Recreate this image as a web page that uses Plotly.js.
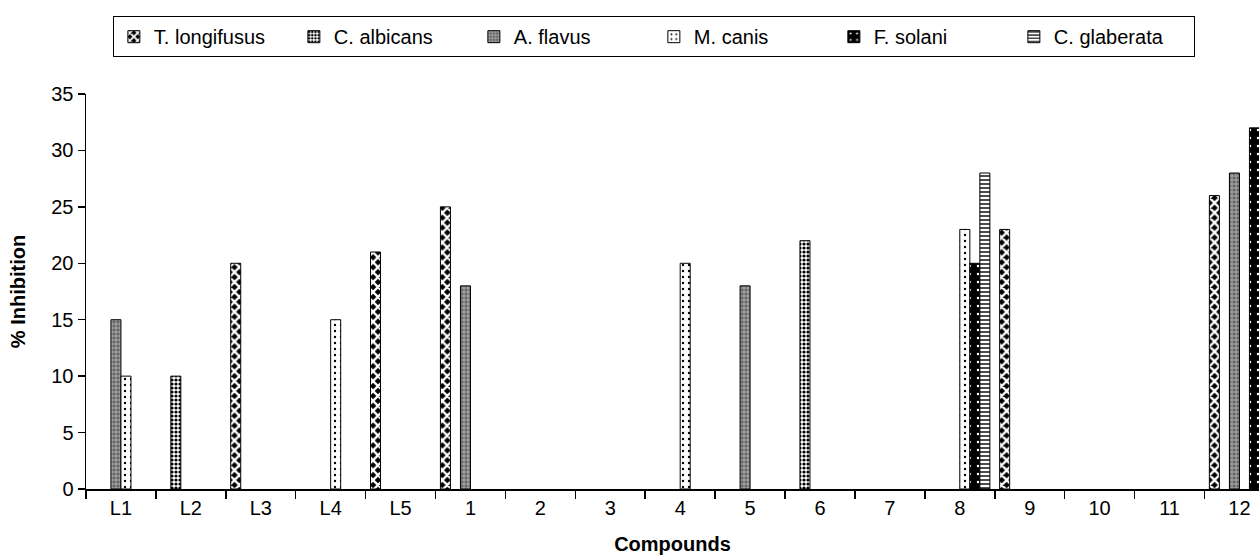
<!DOCTYPE html>
<html>
<head>
<meta charset="utf-8">
<script src="https://cdn.plot.ly/plotly-3.0.1.min.js"></script>
<style>html,body{margin:0;padding:0;background:#fff;}#chart{width:1259px;height:556px;}</style>
</head>
<body>
<div id="chart"></div>
<script>
const compounds = ["L1","L2","L3","L4","L5","1","2","3","4","5","6","7","8","9","10","11","12"];
const seriesNames = ["T. longifusus","C. albicans","A. flavus","M. canis","F. solani","C. glaberata"];
const tLongifusus = [null,null,20,null,21,25,null,null,null,null,null,null,null,23,null,null,26];
const cAlbicans   = [null,10,null,null,null,null,null,null,null,null,22,null,null,null,null,null,null];
const aFlavus     = [15,null,null,null,null,18,null,null,null,18,null,null,null,null,null,null,28];
const mCanis      = [10,null,null,15,null,null,null,null,20,null,null,null,23,null,null,null,null];
const fSolani     = [null,null,null,null,null,null,null,null,null,null,null,null,20,null,null,null,32];
const cGlaberata  = [null,null,null,null,null,null,null,null,null,null,null,null,28,null,null,null,null];

const values = [tLongifusus,cAlbicans,aFlavus,mCanis,fSolani,cGlaberata];
const patterns = [
  {shape:"x", fgcolor:"#ffffff", bgcolor:"#000000", size:7, solidity:0.55, fillmode:"replace"},
  {shape:".", fgcolor:"#000000", bgcolor:"#ffffff", size:4, solidity:0.5, fillmode:"replace"},
  {shape:"+", fgcolor:"#cccccc", bgcolor:"#666666", size:4, solidity:0.3, fillmode:"replace"},
  {shape:".", fgcolor:"#000000", bgcolor:"#ffffff", size:6, solidity:0.12, fillmode:"replace"},
  {shape:".", fgcolor:"#ffffff", bgcolor:"#000000", size:8, solidity:0.08, fillmode:"replace"},
  {shape:"-", fgcolor:"#000000", bgcolor:"#ffffff", size:4, solidity:0.35, fillmode:"replace"}
];

const data = seriesNames.map((name,i)=>({
  type:"bar",
  name:name,
  x:compounds,
  y:values[i],
  marker:{color:"#ffffff", pattern:patterns[i], line:{color:"#000000", width:1}}
}));

const layout = {
  width:1259, height:556,
  paper_bgcolor:"#ffffff", plot_bgcolor:"#ffffff",
  font:{family:"Liberation Sans, Arial, sans-serif", size:20, color:"#000"},
  margin:{l:86, r:0, t:94, b:67},
  barmode:"group", bargap:0.14, bargroupgap:0,
  xaxis:{
    type:"category", range:[-0.5,16.28],
    showline:true, linecolor:"#000", linewidth:1.5,
    ticks:"outside", tickson:"boundaries", ticklen:8, tickwidth:1.5, tickcolor:"#000",
    showgrid:false, zeroline:false,
    tickfont:{size:20},
    title:{text:"<b>Compounds</b>", font:{size:20}, standoff:19}
  },
  yaxis:{
    range:[0,35], dtick:5,
    showline:true, linecolor:"#000", linewidth:1.5,
    ticks:"outside", ticklen:7, tickwidth:1.5, tickcolor:"#000",
    showgrid:false, zeroline:false,
    tickfont:{size:20},
    title:{text:"<b>% Inhibition</b>", font:{size:20}, standoff:20}
  },
  showlegend:true,
  legend:{
    orientation:"h", x:0.0229, xanchor:"left", y:1.197, yanchor:"top",
    bordercolor:"#000", borderwidth:1, bgcolor:"#fff",
    font:{size:20}, entrywidth:135, entrywidthmode:"pixels",
    traceorder:"normal", itemwidth:30
  }
};

Plotly.newPlot("chart", data, layout, {staticPlot:true});
</script>
</body>
</html>
